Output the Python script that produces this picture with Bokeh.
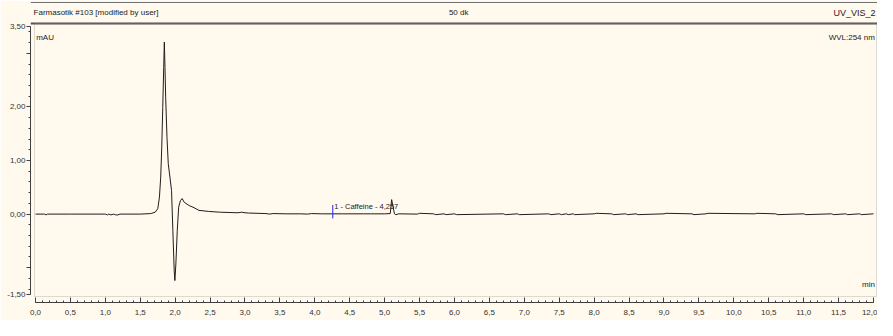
from bokeh.plotting import figure
from bokeh.models import (Range1d, FixedTicker, BoxAnnotation, Span, Label)
from bokeh.embed import file_html
from bokeh.resources import INLINE

# ---- data ----
time_min = [0.00, 0.13, 0.15, 0.17, 0.50, 1.00, 1.03, 1.05, 1.08, 1.12, 1.15, 1.18, 1.21,
            1.50, 1.65, 1.713, 1.751, 1.775, 1.793, 1.808, 1.822, 1.836, 1.845, 1.854,
            1.864, 1.883, 1.901, 1.925, 1.948, 1.967, 1.986, 1.996, 2.010, 2.030, 2.050,
            2.075, 2.100, 2.130, 2.200, 2.270, 2.340, 2.480, 2.650, 2.900, 2.950, 3.000,
            3.050, 3.300, 3.350, 3.400, 3.600, 3.800, 3.900, 3.950, 4.100, 4.257, 4.400,
            4.700, 4.800, 5.000, 5.080, 5.100, 5.140, 5.160, 5.200, 5.470, 5.500, 5.700,
            5.730, 5.850, 5.880, 6.000, 6.030, 6.700, 6.730, 6.900, 6.930, 7.350, 7.380,
            7.500, 7.530, 7.600, 7.630, 7.700, 7.720, 8.000, 8.030, 8.250, 8.280, 8.450,
            8.480, 8.600, 8.630, 9.000, 9.030, 9.400, 9.430, 9.600, 9.630, 10.300, 10.330,
            10.600, 10.630, 11.000, 11.030, 11.400, 11.430, 11.600, 11.630, 11.800,
            11.830, 12.000]
signal_mau = [0.000, 0.000, -0.015, 0.000, 0.000, 0.000, -0.015, 0.000, -0.015, 0.000,
              -0.015, -0.015, 0.000, 0.000, 0.010, 0.035, 0.100, 0.320, 0.690, 1.250,
              1.990, 2.740, 3.210, 2.740, 2.180, 1.430, 0.940, 0.690, 0.440, -0.310,
              -1.050, -1.240, -0.930, -0.310, 0.130, 0.250, 0.290, 0.220, 0.160, 0.120,
              0.070, 0.050, 0.035, 0.025, 0.035, 0.025, 0.020, 0.010, 0.000, 0.010,
              0.005, 0.005, 0.000, 0.010, 0.005, 0.005, 0.005, 0.005, 0.005, 0.005,
              0.010, 0.270, 0.005, -0.010, 0.005, 0.000, 0.015, 0.005, -0.010, 0.005,
              -0.010, 0.005, -0.010, 0.005, -0.010, 0.005, -0.010, 0.005, -0.010, 0.005,
              -0.010, 0.005, -0.010, 0.005, -0.010, 0.005, 0.015, 0.005, -0.010, 0.005,
              -0.010, 0.005, -0.010, 0.005, 0.015, 0.005, -0.010, 0.005, 0.015, 0.005,
              0.015, 0.005, -0.010, 0.005, -0.010, 0.005, -0.010, 0.005, -0.010, 0.005,
              -0.010, 0.005]

peak_name = "1 - Caffeine - 4,257"
peak_time = 4.257

x_ticks = [0.0, 0.5, 1.0, 1.5, 2.0, 2.5, 3.0, 3.5, 4.0, 4.5, 5.0, 5.5, 6.0, 6.5, 7.0,
           7.5, 8.0, 8.5, 9.0, 9.5, 10.0, 10.5, 11.0, 11.5, 12.0]
x_tick_labels = ["0,0", "0,5", "1,0", "1,5", "2,0", "2,5", "3,0", "3,5", "4,0", "4,5",
                 "5,0", "5,5", "6,0", "6,5", "7,0", "7,5", "8,0", "8,5", "9,0", "9,5",
                 "10,0", "10,5", "11,0", "11,5", "12,0"]
y_ticks = [-1.5, -1.0, 0.0, 1.0, 2.0, 3.0, 3.5]
y_tick_labels = ["-1,50", "", "0,00", "1,00", "2,00", "", "3,50"]

FONT = "Liberation Sans"
BG = "#FFF9EE"
INK = "#1E1E1E"

p = figure(width=877, height=320, output_backend="svg", toolbar_location=None,
           title=None, x_range=Range1d(-0.0716, 12.0573),
           y_range=Range1d(-1.649, 3.985),
           min_border_left=30, min_border_right=0, min_border_top=0,
           min_border_bottom=18)
p.background_fill_color = BG
p.border_fill_color = BG
p.outline_line_color = None
p.grid.visible = False

# x axis
xa = p.xaxis[0]
xa.ticker = FixedTicker(ticks=x_ticks,
                        minor_ticks=[i / 10 for i in range(0, 121)])
xa.major_label_overrides = {t: l for t, l in zip(x_ticks, x_tick_labels)}
xa.bounds = (0, 12)
xa.major_tick_in = 5
xa.major_tick_out = 0
xa.minor_tick_in = 2
xa.minor_tick_out = 0
xa.major_label_standoff = 7
xa.axis_line_color = "#404040"
xa.major_tick_line_color = "#404040"
xa.minor_tick_line_color = "#404040"
xa.major_label_text_font = FONT
xa.major_label_text_font_size = "8px"
xa.major_label_text_color = "#333333"

# y axis
ya = p.yaxis[0]
ya.ticker = FixedTicker(ticks=y_ticks,
                        minor_ticks=[-1.4, -1.2, -0.8, -0.6, -0.4, -0.2, 0.2, 0.4, 0.6,
                                     0.8, 1.2, 1.4, 1.6, 1.8, 2.2, 2.4, 2.6, 2.8, 3.2, 3.4])
ya.major_label_overrides = {t: l for t, l in zip(y_ticks, y_tick_labels)}
ya.bounds = (-1.5, 3.5)
ya.major_tick_in = 0
ya.major_tick_out = 4
ya.minor_tick_in = 0
ya.minor_tick_out = 2
ya.major_label_standoff = 1
ya.axis_line_color = "#404040"
ya.major_tick_line_color = "#404040"
ya.minor_tick_line_color = "#404040"
ya.major_label_text_font = FONT
ya.major_label_text_font_size = "8px"
ya.major_label_text_color = "#333333"

# header frame and plot box
p.add_layout(Span(location=3.948, dimension="width", line_color="#707070", line_width=1))
p.add_layout(Span(location=3.556, dimension="width", line_color="#505050", line_width=2))
p.add_layout(BoxAnnotation(left=-0.0143, right=12.043, top=3.556, bottom=-1.537,
                           fill_alpha=0, line_color="#909090", line_width=1))

# chromatogram
p.line(time_min, signal_mau, line_color=INK, line_width=1)

# peak marker
p.segment(x0=[peak_time], y0=[-0.08], x1=[peak_time], y1=[0.17],
          line_color="#2020FF", line_width=1)

def lab(x, y, text, align="left", size="8px"):
    p.add_layout(Label(x=x, y=y, text=text, text_align=align, text_baseline="middle",
                       text_font=FONT, text_font_size=size, text_color="#222222"))

lab(peak_time + 0.02, 0.15, peak_name, size="7.5px")
lab(-0.028, 3.761, "Farmasotik #103 [modified by user]")
lab(6.06, 3.761, "50 dk", align="center")
lab(12.03, 3.761, "UV_VIS_2", align="right", size="9px")
lab(0.01, 3.295, "mAU")
lab(12.02, 3.295, "WVL:254 nm", align="right")
lab(12.02, -1.313, "min", align="right")

open("out.html", "w").write(file_html(p, INLINE))
